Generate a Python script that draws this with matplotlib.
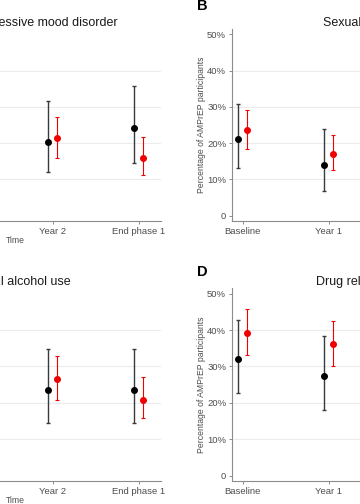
import numpy as np
import matplotlib
matplotlib.use("Agg")
import matplotlib.pyplot as plt
from matplotlib.ticker import FuncFormatter

# --- data (percent of AMPrEP participants, point estimate + 95% CI) ---
TIMES = ["Baseline", "Year 1", "Year 2", "End phase 1"]

# panel A: Anxiety or depressive mood disorder (only Year 2 / End phase 1 visible)
A_IDX = [2, 3]
A_DAILY = [20.4, 24.2]
A_DAILY_LO = [11.9, 14.6]
A_DAILY_HI = [31.7, 35.9]
A_ED = [21.3, 16.0]
A_ED_LO = [16.0, 11.3]
A_ED_HI = [27.3, 21.7]

# panel B: Sexual compulsivity (only Baseline / Year 1 visible)
B_IDX = [0, 1]
B_DAILY = [21.0, 13.9]
B_DAILY_LO = [13.1, 6.8]
B_DAILY_HI = [30.9, 24.0]
B_ED = [23.5, 16.9]
B_ED_LO = [18.4, 12.5]
B_ED_HI = [29.2, 22.2]

# panel C: Harmful alcohol use
C_IDX = [2, 3]
C_DAILY = [23.6, 23.6]
C_DAILY_LO = [14.4, 14.4]
C_DAILY_HI = [34.9, 34.9]
C_ED = [26.5, 20.9]
C_ED_LO = [20.7, 15.8]
C_ED_HI = [32.8, 27.0]

# panel D: Drug related problems
D_IDX = [0, 1]
D_DAILY = [32.1, 27.5]
D_DAILY_LO = [22.8, 18.0]
D_DAILY_HI = [42.8, 38.5]
D_ED = [39.3, 36.1]
D_ED_LO = [33.2, 30.1]
D_ED_HI = [45.7, 42.4]

Y_TICKS = [0, 10, 20, 30, 40, 50]

# --- style ---
plt.rcParams["font.family"] = ["Liberation Sans", "DejaVu Sans"]
W, H = 360, 504
BLACK = "#000000"
BLACK_BAR = "#3a3a3a"
RED = "#f00000"
GRID = "#ececec"
SPINE = "#8c8c8c"
TXT = "#4d4d4d"
DODGE = 0.05


def pct(v, _):
    return "0" if v == 0 else f"{v:.0f}%"


def draw_panel(ax, title, idx, d, d_lo, d_hi, e, e_lo, e_hi):
    x = np.array(idx, dtype=float)
    d = np.array(d); e = np.array(e)
    yerr_d = [d - np.array(d_lo), np.array(d_hi) - d]
    yerr_e = [e - np.array(e_lo), np.array(e_hi) - e]
    ax.errorbar(x - DODGE, d, yerr=yerr_d, fmt="o", color=BLACK, ecolor=BLACK_BAR,
                ms=4, elinewidth=1, capsize=1.6, capthick=1, zorder=3)
    ax.errorbar(x + DODGE, e, yerr=yerr_e, fmt="o", color=RED, ecolor=RED,
                ms=4, elinewidth=0.8, capsize=1.6, capthick=0.8, zorder=3)

    ax.set_xlim(-0.12, 3.26)
    ax.set_ylim(-1.5, 51.5)
    ax.set_xticks(range(len(TIMES)))
    ax.set_xticklabels(TIMES)
    ax.set_yticks(Y_TICKS)
    ax.yaxis.set_major_formatter(FuncFormatter(pct))
    for yv in Y_TICKS[1:-1]:
        ax.axhline(yv, color=GRID, lw=0.8, zorder=0)

    for s in ["top", "right"]:
        ax.spines[s].set_visible(False)
    for s in ["left", "bottom"]:
        ax.spines[s].set_color(SPINE)
        ax.spines[s].set_linewidth(0.8)
    ax.tick_params(axis="both", colors=SPINE, length=2.5, width=0.7,
                   labelsize=6.8, labelcolor=TXT, pad=2)
    ax.set_ylabel("Percentage of AMPrEP participants", fontsize=6.2, color=TXT, labelpad=1)
    ax.set_xlabel("Time", fontsize=6.2, color=TXT, labelpad=0)
    ax.set_title(title, fontsize=9, color="#1a1a1a", pad=2.5)


fig = plt.figure(figsize=(W / 100, H / 100), dpi=100)

# axes placed in pixels so the view crops the full 2x2 figure
ax_w = 290.7
left_col, right_col = -129.6, 232.4
top_row = (221.0, 192.0)     # bottom edge y (from top), height
bot_row = (481.2, 193.0)

def add_ax(x0, row):
    yb, h = row
    return fig.add_axes([x0 / W, (H - yb) / H, ax_w / W, h / H])

axA = add_ax(left_col, top_row)
axB = add_ax(right_col, top_row)
axC = add_ax(left_col, bot_row)
axD = add_ax(right_col, bot_row)

draw_panel(axA, "Anxiety or depressive mood disorder", A_IDX, A_DAILY, A_DAILY_LO, A_DAILY_HI,
           A_ED, A_ED_LO, A_ED_HI)
draw_panel(axB, "Sexual compulsivity", B_IDX, B_DAILY, B_DAILY_LO, B_DAILY_HI,
           B_ED, B_ED_LO, B_ED_HI)
draw_panel(axC, "Harmful alcohol use", C_IDX, C_DAILY, C_DAILY_LO, C_DAILY_HI,
           C_ED, C_ED_LO, C_ED_HI)
draw_panel(axD, "Drug related problems", D_IDX, D_DAILY, D_DAILY_LO, D_DAILY_HI,
           D_ED, D_ED_LO, D_ED_HI)

# panel letters (pixel positions from the top-left)
for letter, px, py in [("A", left_col - 35, 6), ("B", 197, 6),
                       ("C", left_col - 35, 272), ("D", 197, 272)]:
    fig.text(px / W, 1 - py / H, letter, fontsize=10.5, fontweight="bold",
             ha="left", va="center")

fig.savefig("out.png", dpi=100)
